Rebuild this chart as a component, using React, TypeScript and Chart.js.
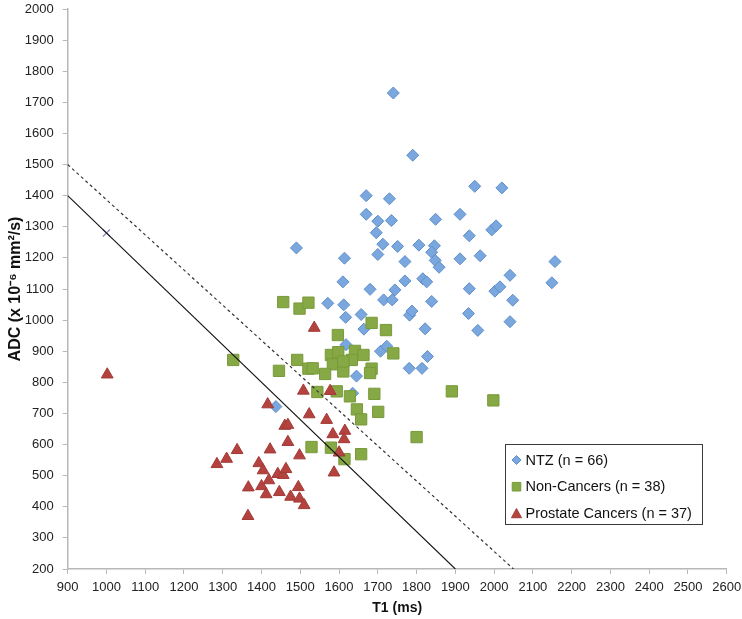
import React, { useEffect, useRef } from 'react';
import { Chart, registerables } from 'chart.js';

Chart.register(...registerables);

// ---- Data (T1 in ms, ADC in x10^-6 mm^2/s) ----
const ntzPoints: [number, number][] = [
  [1740, 1730], [1790, 1530], [1670, 1400], [1730, 1390], [1950, 1430], [2020, 1425],
  [1670, 1340], [1700, 1318], [1735, 1320], [1849, 1324], [1912, 1340], [1936, 1271],
  [1696, 1281], [1994, 1290], [2005, 1303], [1713, 1244], [1751, 1237], [1806, 1241],
  [1846, 1239], [1839, 1218], [1848, 1192], [1858, 1170], [1700, 1211], [1490, 1232],
  [1614, 1199], [1770, 1188], [1912, 1197], [1964, 1207], [2157, 1188], [2149, 1120],
  [1610, 1123], [1770, 1126], [1816, 1133], [1826, 1123], [2041, 1144], [1680, 1099],
  [1744, 1097], [1936, 1101], [2002, 1093], [2015, 1107], [1715, 1065], [1737, 1065],
  [1839, 1060], [2048, 1064], [1571, 1054], [1612, 1049], [1617, 1009], [1657, 1018],
  [1782, 1016], [1788, 1029], [1934, 1021], [2041, 995], [1958, 967], [1822, 972],
  [1664, 971], [1618, 921], [1707, 900], [1723, 916], [1828, 883], [1781, 845],
  [1814, 845], [1645, 820], [1635, 765], [1437, 722],
];

const nonCancerPoints: [number, number][] = [
  [1456, 1058], [1498, 1037], [1521, 1056], [1684, 991], [1721, 968], [1597, 952],
  [1492, 872], [1445, 837], [1521, 844], [1532, 845], [1579, 888], [1598, 897],
  [1641, 901], [1663, 888], [1584, 858], [1633, 872], [1740, 893], [1564, 827],
  [1611, 835], [1684, 844], [1680, 830], [1544, 769], [1594, 771], [1628, 755],
  [1691, 763], [1891, 771], [1646, 713], [1657, 681], [1701, 705], [1800, 624],
  [1529, 592], [1579, 590], [1614, 553], [1657, 569], [1998, 742], [1327, 872],
  [1611, 867],
];

const cancerPoints: [number, number][] = [
  [1002, 825], [1536, 975], [1508, 773], [1577, 772], [1416, 729], [1523, 697],
  [1568, 679], [1460, 660], [1468, 663], [1468, 608], [1584, 633], [1615, 644],
  [1613, 617], [1600, 574], [1587, 510], [1337, 582], [1310, 554], [1285, 537],
  [1422, 584], [1498, 565], [1393, 540], [1404, 517], [1442, 505], [1456, 502],
  [1463, 521], [1419, 485], [1366, 462], [1400, 466], [1412, 440], [1446, 447],
  [1495, 463], [1475, 432], [1498, 426], [1510, 405], [1365, 370],
];

const solidCutoff: [number, number][] = [[900, 1400], [1900, 200]];
const dashedCutoff: [number, number][] = [[900, 1500], [2050, 200]];
const crossMarker: [number, number][] = [[1000, 1280]];

const seriesLabels = ['NTZ (n = 66)', 'Non-Cancers (n = 38)', 'Prostate Cancers (n = 37)'];
const xTitle = 'T1 (ms)';
const yTitle = 'ADC (x 10\u207B\u2076 mm\u00B2/s)';
const xRange = [900, 2600];
const yRange = [200, 2000];
const tickStep = 100;

const toXY = (pts: [number, number][]) => pts.map(([x, y]) => ({ x, y }));

const FONT = '"Liberation Sans", Arial, sans-serif';

function drawMarker(ctx: CanvasRenderingContext2D, style: string, x: number, y: number, r: number, fill: string, stroke: string) {
  ctx.beginPath();
  if (style === 'rectRot') {
    ctx.moveTo(x - r, y);
    ctx.lineTo(x, y - r);
    ctx.lineTo(x + r, y);
    ctx.lineTo(x, y + r);
    ctx.closePath();
  } else if (style === 'rect') {
    ctx.rect(x - r, y - r, 2 * r, 2 * r);
  } else {
    ctx.moveTo(x, y - r);
    ctx.lineTo(x + r * 1.05, y + r * 0.9);
    ctx.lineTo(x - r * 1.05, y + r * 0.9);
    ctx.closePath();
  }
  ctx.fillStyle = fill;
  ctx.fill();
  ctx.strokeStyle = stroke;
  ctx.lineWidth = 1;
  ctx.stroke();
}

const boxLegend = {
  id: 'boxLegend',
  afterDraw(chart: any) {
    const ctx: CanvasRenderingContext2D = chart.ctx;
    const left = 505.5, top = 444.5, w = 197, h = 80;
    ctx.save();
    ctx.fillStyle = '#ffffff';
    ctx.fillRect(left, top, w, h);
    ctx.strokeStyle = '#3a3a3a';
    ctx.lineWidth = 1;
    ctx.strokeRect(left, top, w, h);
    ctx.font = `14.5px ${FONT}`;
    ctx.textBaseline = 'middle';
    ctx.textAlign = 'left';
    const ds = chart.data.datasets.slice(0, 3);
    const sizes = [4.5, 4.3, 4.8];
    ds.forEach((d: any, i: number) => {
      const cy = 460 + i * 26.7;
      drawMarker(ctx, d.pointStyle, 516.5, cy, sizes[i], d.backgroundColor, d.borderColor);
      ctx.fillStyle = '#111111';
      ctx.fillText(d.label, 525.5, cy + 0.5);
    });
    ctx.restore();
  },
};

export default function App() {
  const canvasRef = useRef<HTMLCanvasElement | null>(null);

  useEffect(() => {
    if (!canvasRef.current) return;
    const axisColor = '#b8b8b8';
    const plainTick = (v: any) => String(v);
    const chart = new Chart(canvasRef.current, {
      type: 'scatter',
      data: {
        datasets: [
          {
            label: seriesLabels[0],
            data: toXY(ntzPoints),
            pointStyle: 'rectRot',
            pointRadius: 6,
            backgroundColor: '#79a7de',
            borderColor: '#5f8ecb',
            borderWidth: 1,
            order: 6,
          },
          {
            label: seriesLabels[1],
            data: toXY(nonCancerPoints),
            pointStyle: 'rect',
            pointRadius: 8,
            backgroundColor: '#86a845',
            borderColor: '#789a3b',
            borderWidth: 1,
            order: 5,
          },
          {
            label: seriesLabels[2],
            data: toXY(cancerPoints),
            pointStyle: 'triangle',
            pointRadius: 6.8,
            backgroundColor: '#b4433f',
            borderColor: '#a23a36',
            borderWidth: 1,
            order: 4,
          },
          {
            label: 'marker',
            data: toXY(crossMarker),
            pointStyle: 'crossRot',
            pointRadius: 5,
            borderColor: '#9088c0',
            backgroundColor: '#9088c0',
            borderWidth: 1.3,
            order: 3,
          },
          {
            label: 'dashed',
            data: toXY(dashedCutoff),
            showLine: true,
            pointRadius: 0,
            borderColor: '#333333',
            borderWidth: 1.2,
            borderDash: [3, 3],
            order: 2,
          },
          {
            label: 'solid',
            data: toXY(solidCutoff),
            showLine: true,
            pointRadius: 0,
            borderColor: '#111111',
            borderWidth: 1.1,
            order: 1,
          },
        ],
      },
      options: {
        animation: false,
        responsive: false,
        maintainAspectRatio: false,
        layout: { padding: { left: 0, top: 5, right: 15.3, bottom: 0 } },
        plugins: {
          legend: { display: false },
          tooltip: { enabled: false },
        },
        scales: {
          x: {
            type: 'linear',
            min: xRange[0],
            max: xRange[1],
            ticks: {
              stepSize: tickStep,
              padding: 6,
              color: '#222222',
              font: { family: FONT, size: 13 },
              maxRotation: 0,
              autoSkip: false,
              callback: plainTick,
            },
            grid: { display: true, drawOnChartArea: false, drawTicks: true, tickLength: 5, color: axisColor },
            border: { color: axisColor, width: 1.5 },
            title: {
              display: true,
              text: xTitle,
              color: '#111111',
              font: { family: FONT, size: 14, weight: 'bold' },
              padding: { top: 0, bottom: 2 },
            },
            afterFit: (scale: any) => {
              scale.height = 50;
              scale.paddingLeft = 0;
              scale.paddingRight = 0;
            },
          },
          y: {
            type: 'linear',
            min: yRange[0],
            max: yRange[1],
            ticks: {
              stepSize: tickStep,
              padding: 9,
              color: '#222222',
              font: { family: FONT, size: 13 },
              autoSkip: false,
              callback: plainTick,
            },
            grid: { display: true, drawOnChartArea: false, drawTicks: true, tickLength: 5, color: axisColor },
            border: { color: axisColor, width: 1.5 },
            title: {
              display: true,
              text: yTitle,
              color: '#111111',
              font: { family: FONT, size: 16, weight: 'bold' },
              padding: { top: 6, bottom: 0 },
            },
            afterFit: (scale: any) => {
              scale.width = 67.7;
              scale.paddingTop = 0;
              scale.paddingBottom = 0;
            },
          },
        },
      },
      plugins: [boxLegend],
    } as any);
    return () => chart.destroy();
  }, []);

  return (
    <div style={{ position: 'fixed', left: 0, top: 0, width: 742, height: 619, background: '#ffffff' }}>
      <canvas ref={canvasRef} width={742} height={619} style={{ display: 'block' }} />
    </div>
  );
}
